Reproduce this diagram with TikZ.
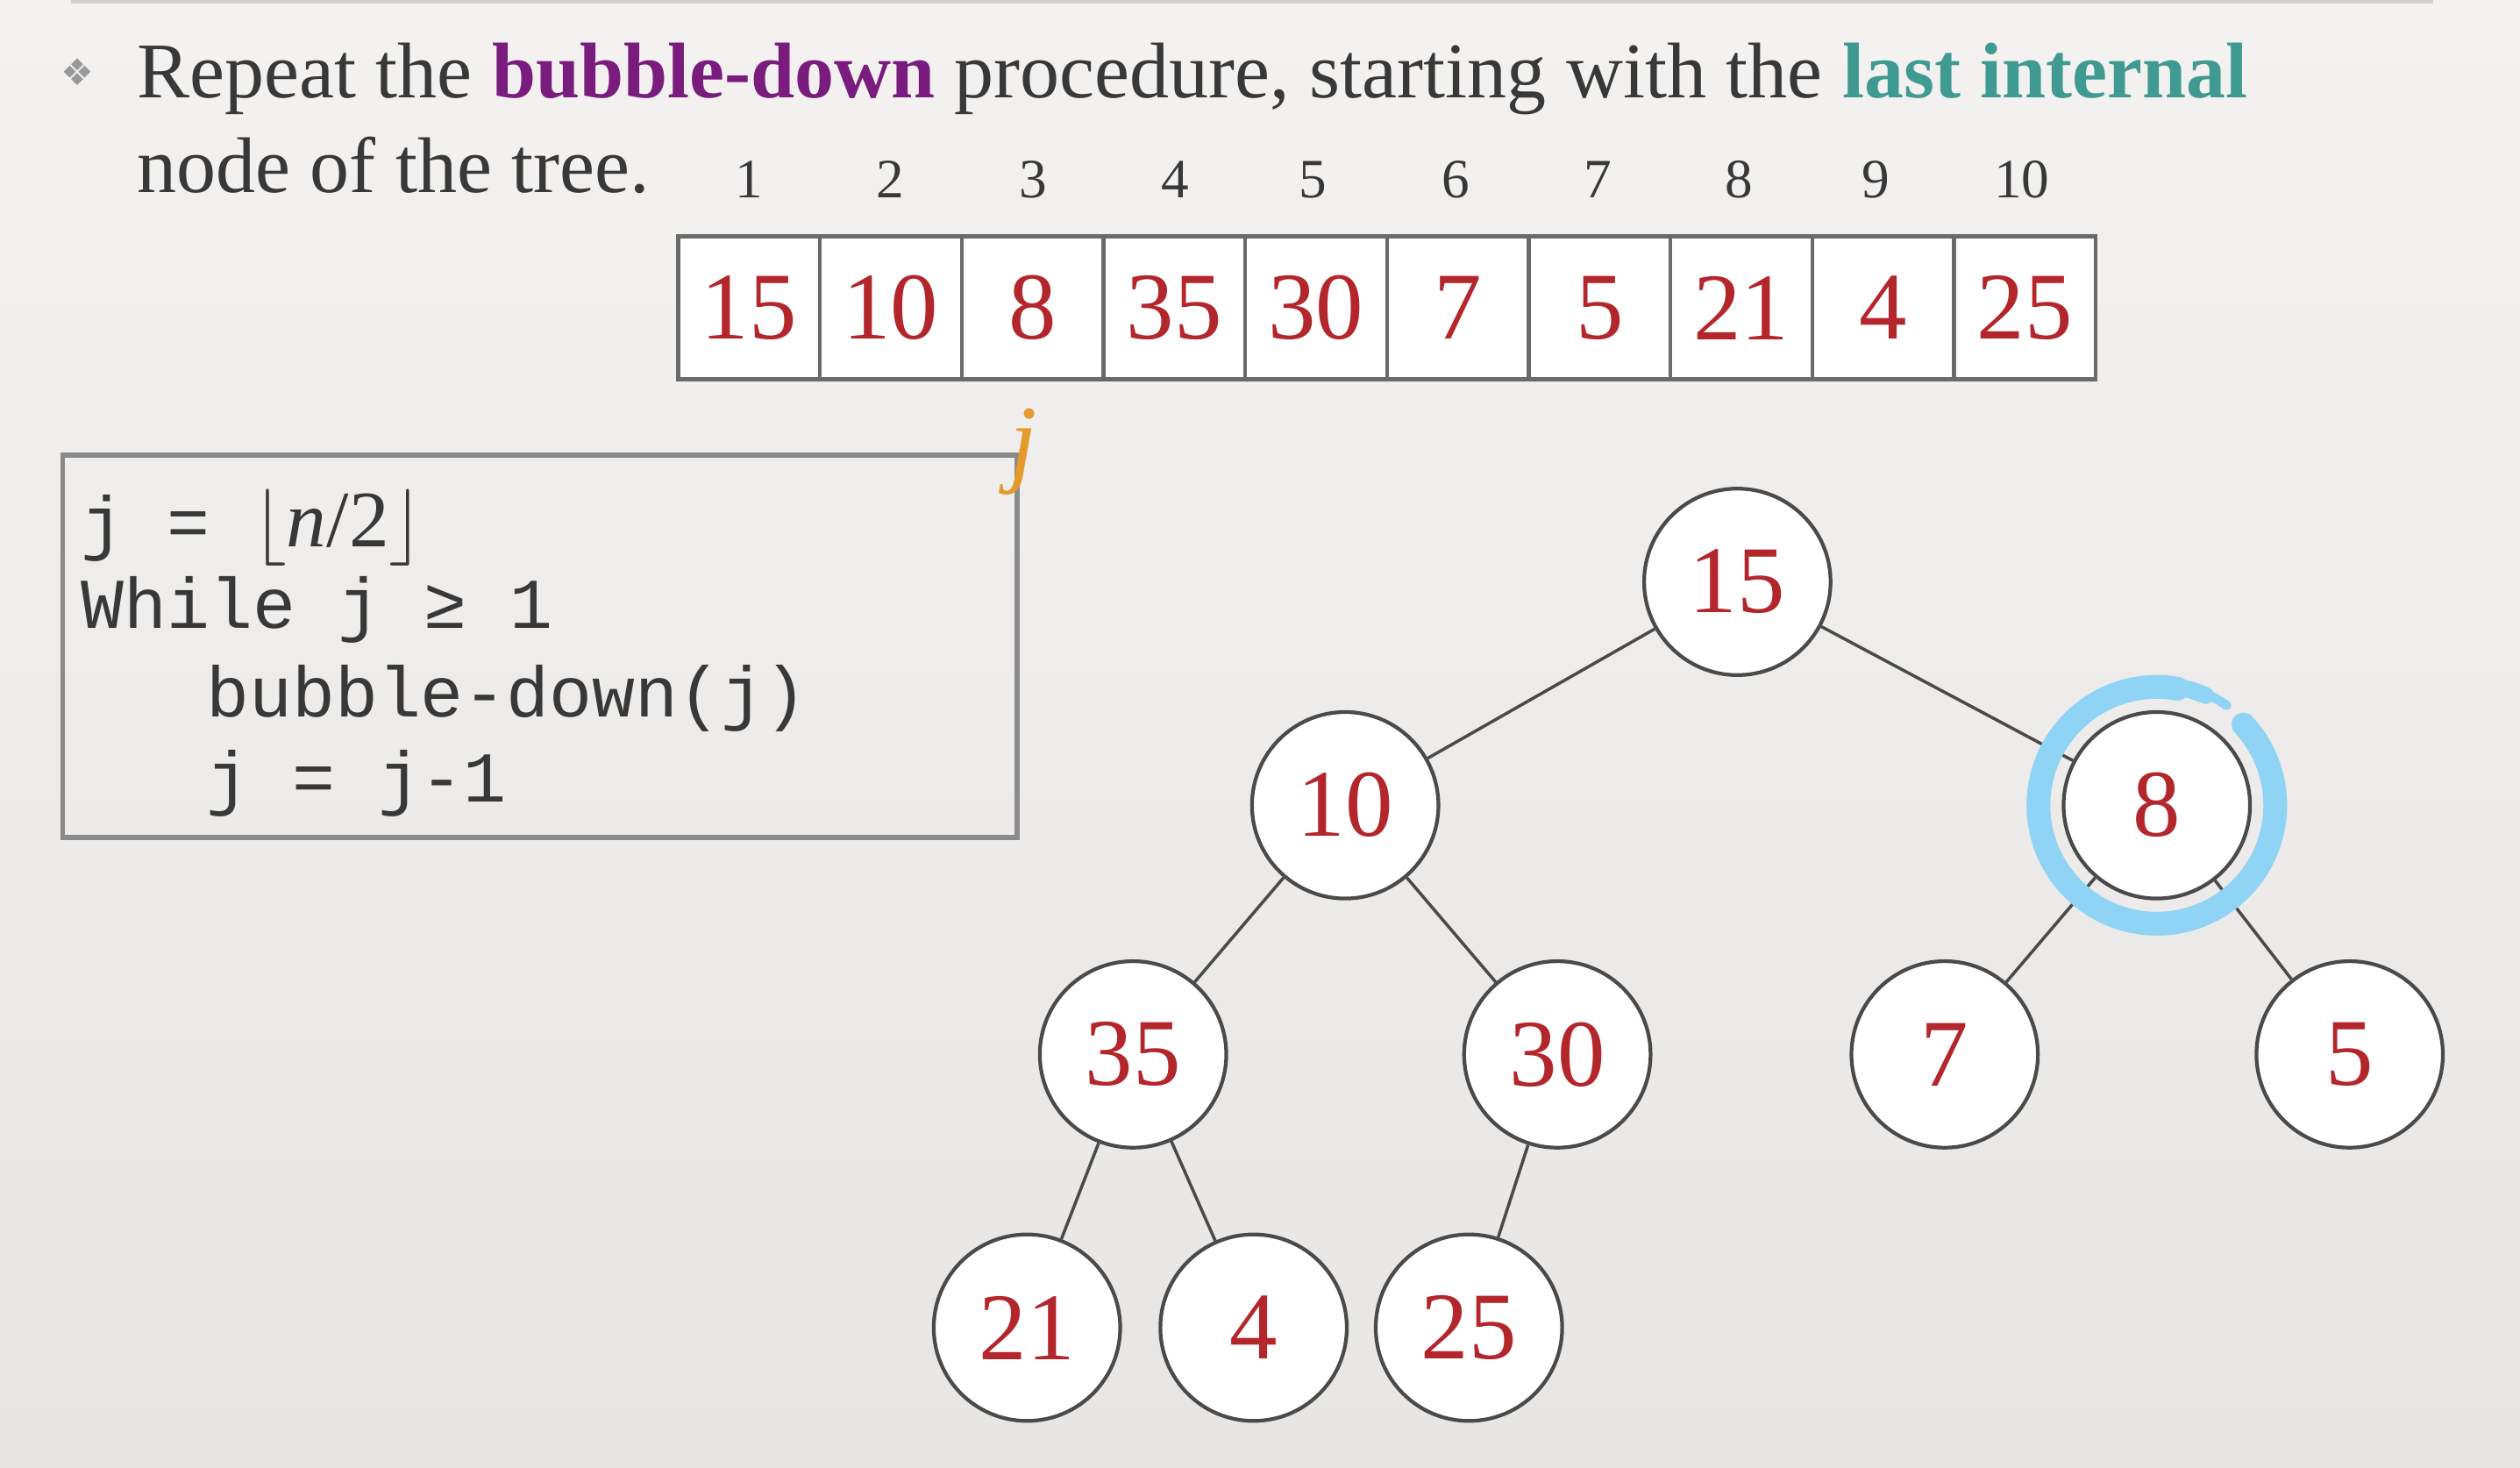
\documentclass[tikz,border=0pt]{standalone}
\usepackage{fontspec}
\setmainfont{Liberation Serif}
\setmonofont{Liberation Mono}
\newfontfamily\symfont{DejaVu Sans}

\definecolor{bgtop}{HTML}{F3F2F0}
\definecolor{bgbot}{HTML}{E7E6E4}
\definecolor{textgray}{HTML}{383838}
\definecolor{bdpurple}{HTML}{7A1C7E}
\definecolor{litteal}{HTML}{3F9A91}
\definecolor{numred}{HTML}{B3262B}
\definecolor{jorange}{HTML}{E59A2C}
\definecolor{ringblue}{HTML}{8FD4F5}
\definecolor{nodegray}{HTML}{4A4A4A}
\definecolor{cellgray}{HTML}{6A6A6A}
\definecolor{boxgray}{HTML}{8A8A8A}

\tikzset{
  treenode/.style={circle, draw=nodegray, line width=1.2pt, fill=white,
    minimum size=2.126cm, inner sep=0pt, text=numred,
    font=\fontsize{31}{31}\selectfont},
  cell/.style={rectangle, draw=cellgray, line width=1.3pt, fill=white,
    minimum width=1.617cm, minimum height=1.631cm, inner sep=0pt,
    text=numred, font=\fontsize{31}{31}\selectfont},
  idx/.style={anchor=base, text=textgray, font=\fontsize{18}{18}\selectfont},
  codeline/.style={anchor=base west, inner sep=0pt, text=textgray,
    font=\ttfamily\fontsize{23.2}{23.2}\selectfont},
  edge/.style={draw=nodegray, line width=1pt},
}

\begin{document}
\begin{tikzpicture}[x=0.01833cm,y=0.01833cm]

% Background
\shade[top color=bgtop, bottom color=bgbot] (0,0) rectangle (1568,913);
\useasboundingbox (0,0) rectangle (1568,913);
\draw[line width=1.2pt, black!18] (44,912) -- (1514,912);

% Heading
\node[text=black!40, font=\symfont\fontsize{12}{12}\selectfont] (bullet) at (48,868) {❖};
\node[anchor=base west, inner sep=0pt, text=textgray, font=\fontsize{25.6}{25.6}\selectfont] (title1) at (85,852)
  {Repeat the \textbf{\color{bdpurple}bubble-down} procedure, starting with the \textbf{\color{litteal}last internal}};
\node[anchor=base west, inner sep=0pt, text=textgray, font=\fontsize{25.6}{25.6}\selectfont] (title2) at (85,793)
  {node of the tree.};

% Indices
\node[idx] (idx1) at (466,790) {1};
\node[idx] (idx2) at (554,790) {2};
\node[idx] (idx3) at (643,790) {3};
\node[idx] (idx4) at (731,790) {4};
\node[idx] (idx5) at (817,790) {5};
\node[idx] (idx6) at (906,790) {6};
\node[idx] (idx7) at (994,790) {7};
\node[idx] (idx8) at (1082,790) {8};
\node[idx] (idx9) at (1167,790) {9};
\node[idx] (idx10) at (1258,790) {10};

% Array
\node[cell] (cell1) at (466.1,721.5) {15};
\node[cell] (cell2) at (554.3,721.5) {10};
\node[cell] (cell3) at (642.5,721.5) {8};
\node[cell] (cell4) at (730.7,721.5) {35};
\node[cell] (cell5) at (818.9,721.5) {30};
\node[cell] (cell6) at (907.1,721.5) {7};
\node[cell] (cell7) at (995.3,721.5) {5};
\node[cell] (cell8) at (1083.5,721.5) {21};
\node[cell] (cell9) at (1171.7,721.5) {4};
\node[cell] (cell10) at (1259.9,721.5) {25};

% Code box
\draw[boxgray, line width=1.6pt] (39,630) rectangle (633,392);
\node[codeline] (code1) at (50,573) {j = {\rmfamily\fontsize{26}{26}\selectfont$\lfloor$\textit{n}/2$\rfloor$}};
\node[codeline] (code2) at (50,522) {While j ≥ 1};
\node[codeline] (code3) at (128,467) {bubble-down(j)};
\node[codeline] (code4) at (128,414) {j = j-1};

% Pointer
\node[text=jorange, font=\itshape\fontsize{32}{32}\selectfont] (jmark) at (637,632) {j};

% Tree
\node[treenode] (n15) at (1081,551) {15};
\node[treenode] (n10) at (837,412) {10};
\node[treenode] (n8) at (1342,412) {8};
\node[treenode] (n35) at (705,257) {35};
\node[treenode] (n30) at (969,257) {30};
\node[treenode] (n7) at (1210,257) {7};
\node[treenode] (n5) at (1462,257) {5};
\node[treenode] (n21) at (639,87) {21};
\node[treenode] (n4) at (780,87) {4};
\node[treenode] (n25) at (914,87) {25};

\draw[edge] (n15) -- (n10);
\draw[edge] (n15) -- (n8);
\draw[edge] (n10) -- (n35);
\draw[edge] (n10) -- (n30);
\draw[edge] (n8) -- (n7);
\draw[edge] (n8) -- (n5);
\draw[edge] (n35) -- (n21);
\draw[edge] (n35) -- (n4);
\draw[edge] (n30) -- (n25);

% Highlight ring
\draw[ringblue, line width=7.7pt, line cap=round] (n8.center) ++(43:1.35cm)
  arc[start angle=43, end angle=-280, radius=1.35cm];
\draw[ringblue, line width=5.5pt, line cap=round] (n8.center) ++(-280:1.37cm)
  arc[start angle=-280, end angle=-294, radius=1.37cm];
\draw[ringblue, line width=3pt, line cap=round] (n8.center) ++(-294:1.39cm)
  arc[start angle=-294, end angle=-305, radius=1.39cm];

\end{tikzpicture}
\end{document}
